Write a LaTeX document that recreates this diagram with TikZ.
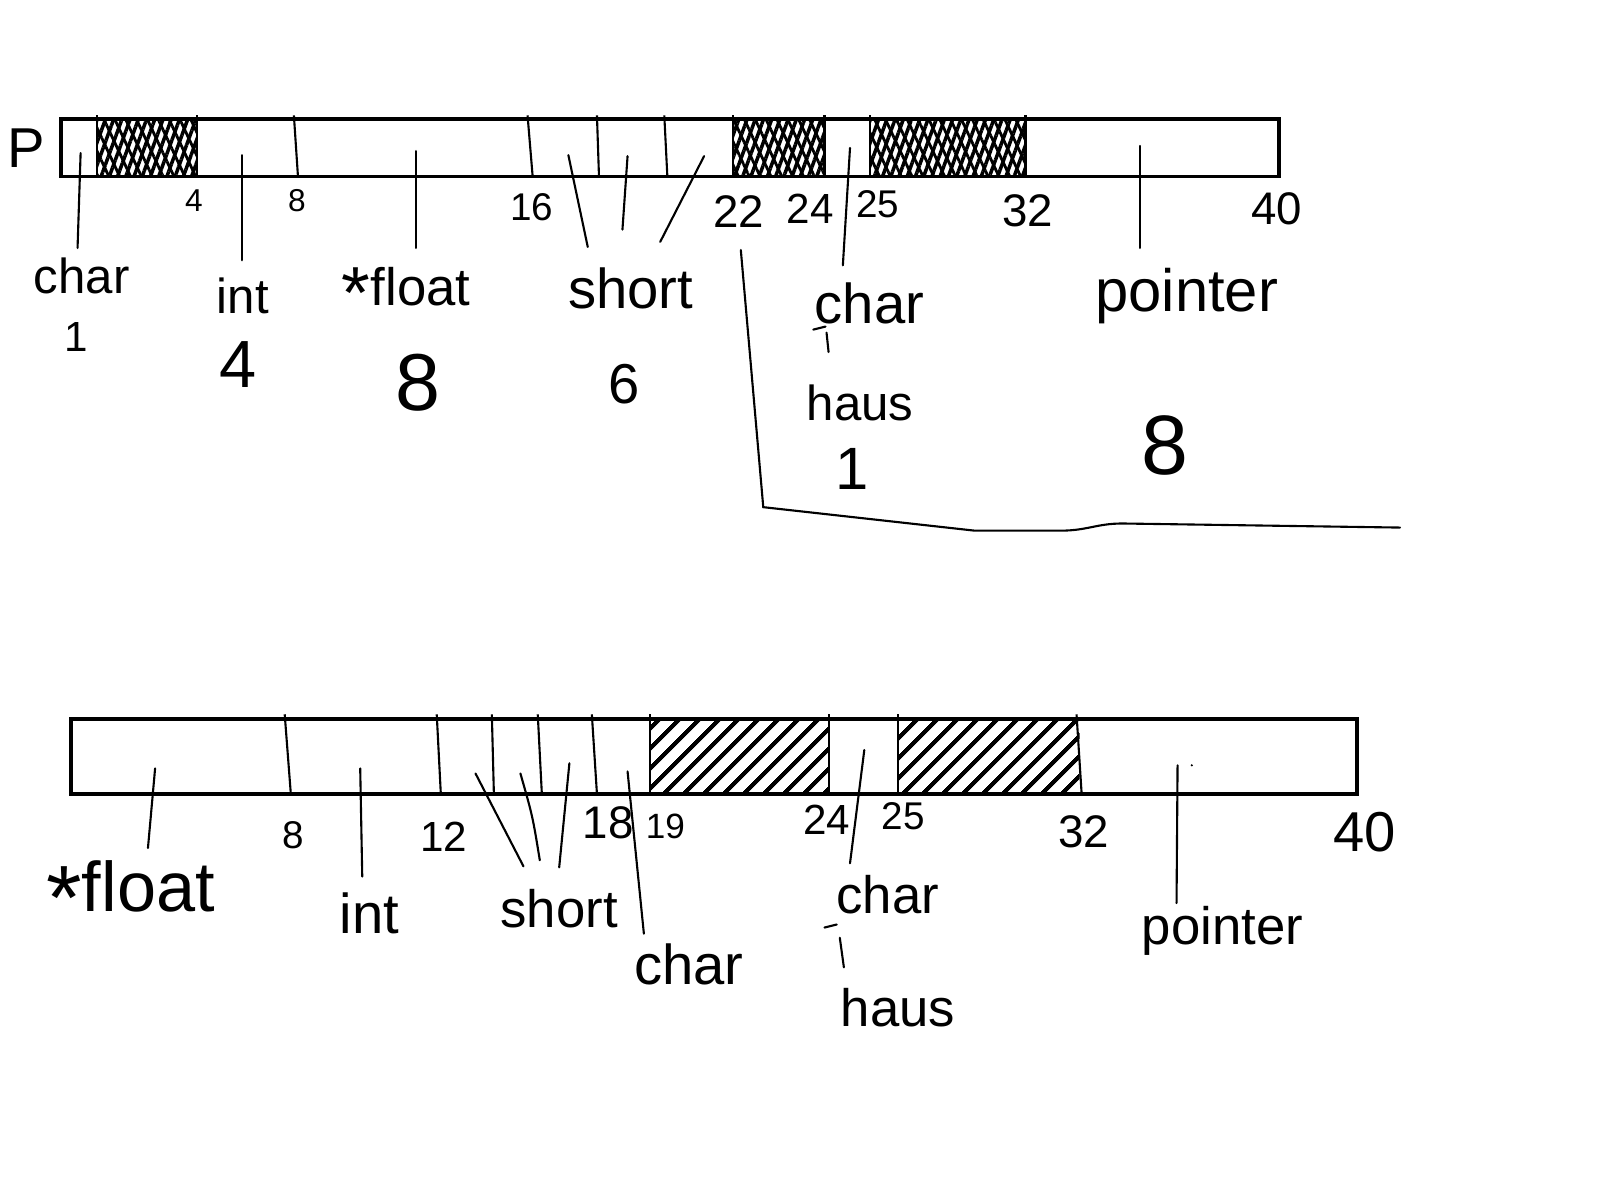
\documentclass[tikz,border=0pt]{standalone}
\usepackage{fontspec}
\setmainfont{Liberation Sans}
\usetikzlibrary{patterns.meta}

\begin{document}
\begin{tikzpicture}[
  x=0.010204cm, y=-0.010204cm,
  bar/.style={draw, line width=1.1pt},
  div/.style={line width=0.6pt},
  lead/.style={line width=0.6pt, line cap=round},
  lbl/.style={inner sep=0pt, font=\fontsize{#1}{#1}\selectfont},
  lbl/.default=15,
  num/.style={inner sep=0pt, font=\fontsize{#1}{#1}\selectfont},
  dense/.style={pattern={Lines[angle=70,distance=2.2pt,line width=1pt]}},
  denseb/.style={pattern={Lines[angle=115,distance=2.8pt,line width=0.8pt]}},
  loose/.style={pattern={Lines[angle=45,distance=4pt,line width=1.2pt]}},
]
\useasboundingbox (0,0) rectangle (1568,1176);

% Upper layout
\node[num=16] (P) at (26,145) {P};
\fill[dense] (95,117) rectangle (193,173);
\fill[denseb] (95,117) rectangle (193,173);
\fill[dense] (718,117) rectangle (808,173);
\fill[denseb] (718,117) rectangle (808,173);
\fill[dense] (853,117) rectangle (1005,173);
\fill[denseb] (853,117) rectangle (1005,173);
\draw[bar] (60,117) rectangle (1253,173);
\foreach \a/\b in {95/95,193/193,288/292,517/522,585/587,651/654,718/718,808/808,853/853,1005/1005}
  \draw[div] (\a,113) -- (\b,173);

% Offsets
\node[num=9]  (uT4)  at (190,197) {4};
\node[num=9]  (uT8)  at (291,197) {8};
\node[num=11] (uT16) at (521,203) {16};
\node[num=13] (uT22) at (724,207) {22};
\node[num=12] (uT24) at (794,205) {24};
\node[num=11] (uT25) at (860,200) {25};
\node[num=13] (uT32) at (1007,207) {32};
\node[num=13] (uT40) at (1251,205) {40};

% Members and sizes
\node[lbl=14] (uChar) at (80,270) {char};
\node[num=12] (uSzChar) at (75,330) {1};
\node[lbl=14] (uInt) at (238,290) {int};
\node[num=19] (uSzInt) at (233,357) {4};
\node[lbl=15] (uFloat) at (398,287) {\raisebox{-0.25em}{\fontsize{21}{21}\selectfont *}float};
\node[num=23] (uSzFloat) at (410,375) {8};
\node[lbl=16] (uShort) at (618,283) {short};
\node[num=16] (uSzShort) at (612,376) {6};
\node[lbl=16] (uChar2) at (852,297) {char};
\node[lbl=14] (uHaus) at (843,395) {haus};
\node[num=17] (uSzHaus) at (835,460) {1};
\node[lbl=17] (uPtr) at (1163,290) {pointer};
\node[num=24] (uSzPtr) at (1142,437) {8};

\foreach \n/\a/\b/\c/\d in {uA/79/150/76/243, uB/237/152/237/255, uC/408/148/408/243,
    uD/615/153/610/225, uE/690/153/647/237, uF/833/145/826/260, uG/1117/143/1117/243}{
  \coordinate (\n-s) at (\a,\b);
  \coordinate (\n-e) at (\c,\d);
  \draw[lead] (\n-s) -- (\n-e);
}
\coordinate (uH-s) at (557,152);
\coordinate (uH-e) at (576,242);
\draw[lead] (uH-s) .. controls (565,190) .. (uH-e);
\draw[lead] (797,323) -- (809,320) (810,326) -- (812,345);

% Cut line
\coordinate (cut1) at (726,245);
\coordinate (cut2) at (748,497);
\coordinate (cut3) at (955,520);
\coordinate (cut4) at (1040,520);
\coordinate (cut5) at (1100,513);
\coordinate (cut6) at (1372,517);
\draw[lead] (cut1) -- (cut2) -- (cut3) -- (cut4)
  .. controls (1065,520) and (1075,513) .. (cut5) -- (cut6);

% Lower layout
\fill[loose] (637,705) rectangle (812,778);
\fill[loose] (880,705) rectangle (1058,778);
\draw[bar] (70,705) rectangle (1330,778);
\foreach \a/\b in {279/285,428/432,482/484,527/531,580/585,637/637,812/812,880/880,1055/1060}
  \draw[div] (\a,700) -- (\b,778);

% Offsets
\node[num=11] (lT8)  at (287,818) {8};
\node[num=12] (lT12) at (435,820) {12};
\node[num=13] (lT18) at (596,806) {18};
\node[num=10] (lT19) at (652,810) {19};
\node[num=12] (lT24) at (810,803) {24};
\node[num=11] (lT25) at (885,800) {25};
\node[num=13] (lT32) at (1062,815) {32};
\node[num=16] (lT40) at (1337,815) {40};

% Members
\node[lbl=20] (lFloat) at (128,877) {\raisebox{-0.25em}{\fontsize{26}{26}\selectfont *}float};
\node[lbl=16] (lInt) at (362,895) {int};
\node[lbl=15] (lShort) at (548,890) {short};
\node[lbl=16] (lChar) at (675,945) {char};
\node[lbl=15] (lChar2) at (870,877) {char};
\node[lbl=15] (lHaus) at (880,987) {haus};
\node[lbl=15] (lPtr) at (1198,912) {pointer};

\foreach \n/\a/\b/\c/\d in {lA/152/753/145/831, lB/353/753/355/859, lC/466/758/513/849,
    lD/558/748/548/850, lE/615/756/631/915, lF/847/735/833/846, lG/1154/750/1153/885}{
  \coordinate (\n-s) at (\a,\b);
  \coordinate (\n-e) at (\c,\d);
  \draw[lead] (\n-s) -- (\n-e);
}
\coordinate (lH-s) at (510,758);
\coordinate (lH-e) at (529,843);
\draw[lead] (lH-s) .. controls (522,800) .. (lH-e);
\draw[lead] (808,909) -- (820,906) (823,919) -- (827,948);
\fill (1168,750) circle (1.2);
\end{tikzpicture}
\end{document}
